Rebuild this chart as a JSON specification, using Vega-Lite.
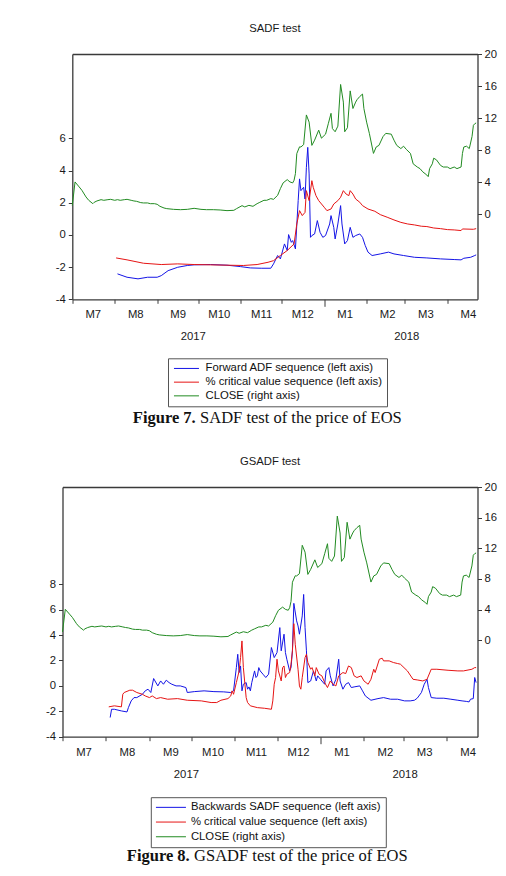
{
  "$schema": "https://vega.github.io/schema/vega-lite/v6.json",
  "padding": {"left": 41.5, "top": 22, "right": 0, "bottom": 0},
  "background": "white",
  "config": {
    "font": "Liberation Sans",
    "view": {"stroke": null},
    "axis": {"labelFont": "Liberation Sans", "labelFontSize": 11.3, "labelColor": "#1a1a1a", "tickColor": "#3a3a3a", "tickWidth": 1, "grid": false, "domain": false, "domainColor": "#3a3a3a", "domainWidth": 1.3, "title": null},
    "title": {"font": "Liberation Sans", "fontSize": 11.3, "fontWeight": "normal", "color": "#1a1a1a"},
    "line": {"strokeWidth": 1}
  },
  "datasets": {
    "close": [
      {"date":"2017-07-01","close":1.1},{"date":"2017-07-03","close":4.04},{"date":"2017-07-06","close":3.42},{"date":"2017-07-08","close":3.0},
      {"date":"2017-07-11","close":2.17},{"date":"2017-07-13","close":1.75},{"date":"2017-07-16","close":1.33},{"date":"2017-07-17","close":1.5},
      {"date":"2017-07-19","close":1.67},{"date":"2017-07-22","close":1.83},{"date":"2017-07-24","close":1.75},{"date":"2017-07-27","close":1.83},
      {"date":"2017-07-29","close":1.87},{"date":"2017-08-01","close":1.75},{"date":"2017-08-03","close":1.83},{"date":"2017-08-05","close":1.75},
      {"date":"2017-08-08","close":1.83},{"date":"2017-08-10","close":1.87},{"date":"2017-08-13","close":1.75},{"date":"2017-08-15","close":1.67},
      {"date":"2017-08-17","close":1.62},{"date":"2017-08-20","close":1.46},{"date":"2017-08-22","close":1.42},{"date":"2017-08-25","close":1.42},
      {"date":"2017-08-27","close":1.33},{"date":"2017-08-30","close":1.33},{"date":"2017-09-01","close":1.25},{"date":"2017-09-03","close":1.0},
      {"date":"2017-09-06","close":0.79},{"date":"2017-09-08","close":0.71},{"date":"2017-09-13","close":0.62},{"date":"2017-09-18","close":0.58},
      {"date":"2017-09-23","close":0.62},{"date":"2017-09-28","close":0.75},{"date":"2017-10-03","close":0.62},{"date":"2017-10-07","close":0.58},
      {"date":"2017-10-12","close":0.58},{"date":"2017-10-17","close":0.54},{"date":"2017-10-22","close":0.46},{"date":"2017-10-27","close":0.5},
      {"date":"2017-10-29","close":0.71},{"date":"2017-11-02","close":1.08},{"date":"2017-11-04","close":0.92},{"date":"2017-11-07","close":1.12},
      {"date":"2017-11-10","close":1.0},{"date":"2017-11-13","close":1.33},{"date":"2017-11-15","close":1.5},{"date":"2017-11-18","close":1.75},
      {"date":"2017-11-20","close":1.75},{"date":"2017-11-23","close":1.96},{"date":"2017-11-25","close":1.87},{"date":"2017-11-28","close":2.37},
      {"date":"2017-11-30","close":3.21},{"date":"2017-12-02","close":3.92},{"date":"2017-12-05","close":4.33},{"date":"2017-12-07","close":4.04},
      {"date":"2017-12-09","close":3.92},{"date":"2017-12-10","close":4.25},{"date":"2017-12-11","close":5.08},{"date":"2017-12-12","close":7.58},
      {"date":"2017-12-14","close":8.42},{"date":"2017-12-15","close":8.4},{"date":"2017-12-17","close":8.7},{"date":"2017-12-19","close":12.4},
      {"date":"2017-12-21","close":11.5},{"date":"2017-12-23","close":8.6},{"date":"2017-12-25","close":9.25},{"date":"2017-12-28","close":10.5},
      {"date":"2017-12-30","close":9.5},{"date":"2018-01-02","close":10.0},{"date":"2018-01-04","close":11.3},{"date":"2018-01-06","close":12.6},
      {"date":"2018-01-07","close":10.7},{"date":"2018-01-09","close":10.3},{"date":"2018-01-11","close":11.0},{"date":"2018-01-13","close":16.2},
      {"date":"2018-01-15","close":14.0},{"date":"2018-01-16","close":10.3},{"date":"2018-01-18","close":10.8},{"date":"2018-01-20","close":15.4},
      {"date":"2018-01-22","close":13.2},{"date":"2018-01-24","close":14.0},{"date":"2018-01-25","close":14.3},{"date":"2018-01-27","close":14.7},
      {"date":"2018-01-29","close":15.0},{"date":"2018-01-30","close":13.2},{"date":"2018-02-01","close":11.5},{"date":"2018-02-03","close":10.1},
      {"date":"2018-02-06","close":7.6},{"date":"2018-02-08","close":8.4},{"date":"2018-02-10","close":8.6},{"date":"2018-02-13","close":9.7},
      {"date":"2018-02-15","close":10.1},{"date":"2018-02-19","close":10.0},{"date":"2018-02-21","close":9.25},{"date":"2018-02-23","close":8.6},
      {"date":"2018-02-26","close":8.2},{"date":"2018-02-28","close":8.5},{"date":"2018-03-02","close":8.1},{"date":"2018-03-05","close":7.6},
      {"date":"2018-03-07","close":6.3},{"date":"2018-03-10","close":5.9},{"date":"2018-03-12","close":5.7},{"date":"2018-03-14","close":5.3},
      {"date":"2018-03-17","close":4.9},{"date":"2018-03-18","close":4.7},{"date":"2018-03-19","close":5.7},{"date":"2018-03-21","close":6.3},
      {"date":"2018-03-22","close":7.0},{"date":"2018-03-24","close":6.8},{"date":"2018-03-27","close":6.1},{"date":"2018-03-29","close":5.9},
      {"date":"2018-04-01","close":5.9},{"date":"2018-04-03","close":5.7},{"date":"2018-04-06","close":5.9},{"date":"2018-04-08","close":5.7},
      {"date":"2018-04-11","close":5.9},{"date":"2018-04-12","close":7.6},{"date":"2018-04-13","close":8.4},{"date":"2018-04-15","close":8.5},
      {"date":"2018-04-17","close":8.2},{"date":"2018-04-19","close":9.7},{"date":"2018-04-20","close":11.1},{"date":"2018-04-21","close":11.3},
      {"date":"2018-04-22","close":11.4}
    ],
    "sadf": [
      {"date":"2017-08-03","series":"adf","value":-2.42},{"date":"2017-08-10","series":"adf","value":-2.63},{"date":"2017-08-18","series":"adf","value":-2.73},
      {"date":"2017-08-25","series":"adf","value":-2.63},{"date":"2017-09-01","series":"adf","value":-2.63},{"date":"2017-09-04","series":"adf","value":-2.53},
      {"date":"2017-09-09","series":"adf","value":-2.22},{"date":"2017-09-16","series":"adf","value":-2.01},{"date":"2017-09-23","series":"adf","value":-1.9},
      {"date":"2017-09-28","series":"adf","value":-1.86},{"date":"2017-10-10","series":"adf","value":-1.84},{"date":"2017-10-22","series":"adf","value":-1.88},
      {"date":"2017-11-01","series":"adf","value":-1.97},{"date":"2017-11-08","series":"adf","value":-2.05},{"date":"2017-11-16","series":"adf","value":-2.07},
      {"date":"2017-11-23","series":"adf","value":-2.07},{"date":"2017-11-25","series":"adf","value":-1.8},{"date":"2017-11-28","series":"adf","value":-1.28},
      {"date":"2017-11-30","series":"adf","value":-1.49},{"date":"2017-12-03","series":"adf","value":-0.56},{"date":"2017-12-05","series":"adf","value":-0.97},
      {"date":"2017-12-06","series":"adf","value":0.02},{"date":"2017-12-08","series":"adf","value":-0.46},{"date":"2017-12-09","series":"adf","value":-0.35},
      {"date":"2017-12-11","series":"adf","value":-0.87},{"date":"2017-12-13","series":"adf","value":2.13},{"date":"2017-12-14","series":"adf","value":3.48},
      {"date":"2017-12-15","series":"adf","value":2.75},{"date":"2017-12-17","series":"adf","value":2.96},{"date":"2017-12-18","series":"adf","value":2.23},
      {"date":"2017-12-19","series":"adf","value":4.2},{"date":"2017-12-20","series":"adf","value":5.44},{"date":"2017-12-21","series":"adf","value":3.79},
      {"date":"2017-12-22","series":"adf","value":-0.15},{"date":"2017-12-23","series":"adf","value":-0.04},{"date":"2017-12-25","series":"adf","value":0.06},
      {"date":"2017-12-27","series":"adf","value":0.89},{"date":"2017-12-29","series":"adf","value":0.16},{"date":"2017-12-31","series":"adf","value":-0.15},
      {"date":"2018-01-02","series":"adf","value":-0.04},{"date":"2018-01-05","series":"adf","value":0.68},{"date":"2018-01-06","series":"adf","value":1.2},
      {"date":"2018-01-08","series":"adf","value":0.47},{"date":"2018-01-09","series":"adf","value":-0.25},{"date":"2018-01-11","series":"adf","value":0.68},
      {"date":"2018-01-13","series":"adf","value":1.82},{"date":"2018-01-14","series":"adf","value":0.68},{"date":"2018-01-16","series":"adf","value":-0.56},
      {"date":"2018-01-18","series":"adf","value":-0.35},{"date":"2018-01-20","series":"adf","value":0.47},{"date":"2018-01-22","series":"adf","value":-0.15},
      {"date":"2018-01-24","series":"adf","value":-0.04},{"date":"2018-01-27","series":"adf","value":0.06},{"date":"2018-01-29","series":"adf","value":-0.15},
      {"date":"2018-01-31","series":"adf","value":-0.66},{"date":"2018-02-02","series":"adf","value":-1.07},{"date":"2018-02-05","series":"adf","value":-1.28},
      {"date":"2018-02-11","series":"adf","value":-1.18},{"date":"2018-02-17","series":"adf","value":-1.07},{"date":"2018-02-21","series":"adf","value":-1.18},
      {"date":"2018-02-28","series":"adf","value":-1.28},{"date":"2018-03-08","series":"adf","value":-1.39},{"date":"2018-03-17","series":"adf","value":-1.43},
      {"date":"2018-03-27","series":"adf","value":-1.49},{"date":"2018-04-06","series":"adf","value":-1.53},{"date":"2018-04-11","series":"adf","value":-1.55},
      {"date":"2018-04-13","series":"adf","value":-1.45},{"date":"2018-04-18","series":"adf","value":-1.39},{"date":"2018-04-21","series":"adf","value":-1.28},
      {"date":"2018-04-22","series":"adf","value":-1.24},
      {"date":"2017-08-02","series":"cv","value":-1.43},{"date":"2017-08-10","series":"cv","value":-1.55},{"date":"2017-08-22","series":"cv","value":-1.76},
      {"date":"2017-09-04","series":"cv","value":-1.84},{"date":"2017-09-16","series":"cv","value":-1.8},{"date":"2017-09-28","series":"cv","value":-1.84},
      {"date":"2017-10-10","series":"cv","value":-1.86},{"date":"2017-10-22","series":"cv","value":-1.88},{"date":"2017-11-03","series":"cv","value":-1.9},
      {"date":"2017-11-13","series":"cv","value":-1.84},{"date":"2017-11-21","series":"cv","value":-1.7},{"date":"2017-11-25","series":"cv","value":-1.6},
      {"date":"2017-11-30","series":"cv","value":-1.28},{"date":"2017-12-05","series":"cv","value":-0.97},{"date":"2017-12-10","series":"cv","value":-0.56},
      {"date":"2017-12-12","series":"cv","value":0.68},{"date":"2017-12-14","series":"cv","value":1.51},{"date":"2017-12-16","series":"cv","value":1.2},
      {"date":"2017-12-18","series":"cv","value":1.4},{"date":"2017-12-19","series":"cv","value":2.75},{"date":"2017-12-21","series":"cv","value":2.13},
      {"date":"2017-12-23","series":"cv","value":3.37},{"date":"2017-12-24","series":"cv","value":2.96},{"date":"2017-12-26","series":"cv","value":2.44},
      {"date":"2017-12-28","series":"cv","value":2.13},{"date":"2018-01-01","series":"cv","value":1.72},{"date":"2018-01-03","series":"cv","value":1.51},
      {"date":"2018-01-06","series":"cv","value":1.61},{"date":"2018-01-08","series":"cv","value":1.92},{"date":"2018-01-11","series":"cv","value":2.13},
      {"date":"2018-01-13","series":"cv","value":2.34},{"date":"2018-01-15","series":"cv","value":2.75},{"date":"2018-01-17","series":"cv","value":2.54},
      {"date":"2018-01-19","series":"cv","value":2.44},{"date":"2018-01-20","series":"cv","value":2.75},{"date":"2018-01-22","series":"cv","value":2.54},
      {"date":"2018-01-24","series":"cv","value":2.23},{"date":"2018-01-27","series":"cv","value":2.03},{"date":"2018-01-29","series":"cv","value":1.82},
      {"date":"2018-02-02","series":"cv","value":1.61},{"date":"2018-02-07","series":"cv","value":1.47},{"date":"2018-02-11","series":"cv","value":1.26},
      {"date":"2018-02-16","series":"cv","value":1.1},{"date":"2018-02-21","series":"cv","value":0.93},{"date":"2018-02-26","series":"cv","value":0.78},
      {"date":"2018-03-03","series":"cv","value":0.68},{"date":"2018-03-08","series":"cv","value":0.62},{"date":"2018-03-13","series":"cv","value":0.54},
      {"date":"2018-03-17","series":"cv","value":0.52},{"date":"2018-03-22","series":"cv","value":0.43},{"date":"2018-03-27","series":"cv","value":0.39},
      {"date":"2018-04-01","series":"cv","value":0.33},{"date":"2018-04-06","series":"cv","value":0.31},{"date":"2018-04-11","series":"cv","value":0.27},
      {"date":"2018-04-12","series":"cv","value":0.37},{"date":"2018-04-20","series":"cv","value":0.35},{"date":"2018-04-22","series":"cv","value":0.39}
    ],
    "gsadf": [
      {"date":"2017-08-04","series":"bsadf","value":-2.49},{"date":"2017-08-05","series":"bsadf","value":-1.84},{"date":"2017-08-07","series":"bsadf","value":-1.84},
      {"date":"2017-08-12","series":"bsadf","value":-1.97},{"date":"2017-08-16","series":"bsadf","value":-2.05},{"date":"2017-08-17","series":"bsadf","value":-1.71},
      {"date":"2017-08-19","series":"bsadf","value":-1.18},{"date":"2017-08-21","series":"bsadf","value":-0.92},{"date":"2017-08-23","series":"bsadf","value":-0.92},
      {"date":"2017-08-27","series":"bsadf","value":-0.66},{"date":"2017-08-29","series":"bsadf","value":-0.39},{"date":"2017-08-31","series":"bsadf","value":-0.26},
      {"date":"2017-09-02","series":"bsadf","value":-0.52},{"date":"2017-09-04","series":"bsadf","value":0.58},{"date":"2017-09-07","series":"bsadf","value":0.0},
      {"date":"2017-09-09","series":"bsadf","value":0.39},{"date":"2017-09-11","series":"bsadf","value":0.13},{"date":"2017-09-13","series":"bsadf","value":0.45},
      {"date":"2017-09-15","series":"bsadf","value":0.26},{"date":"2017-09-17","series":"bsadf","value":0.13},{"date":"2017-09-20","series":"bsadf","value":0.0},
      {"date":"2017-09-23","series":"bsadf","value":0.0},{"date":"2017-09-27","series":"bsadf","value":-0.13},{"date":"2017-09-28","series":"bsadf","value":-0.52},
      {"date":"2017-10-03","series":"bsadf","value":-0.45},{"date":"2017-10-10","series":"bsadf","value":-0.39},{"date":"2017-10-17","series":"bsadf","value":-0.45},
      {"date":"2017-10-24","series":"bsadf","value":-0.47},{"date":"2017-10-29","series":"bsadf","value":-0.52},{"date":"2017-10-31","series":"bsadf","value":-0.39},
      {"date":"2017-11-02","series":"bsadf","value":1.44},{"date":"2017-11-03","series":"bsadf","value":2.49},{"date":"2017-11-04","series":"bsadf","value":1.05},
      {"date":"2017-11-05","series":"bsadf","value":1.57},{"date":"2017-11-06","series":"bsadf","value":-0.39},{"date":"2017-11-07","series":"bsadf","value":0.13},
      {"date":"2017-11-09","series":"bsadf","value":0.26},{"date":"2017-11-10","series":"bsadf","value":-0.26},{"date":"2017-11-11","series":"bsadf","value":-0.08},
      {"date":"2017-11-12","series":"bsadf","value":-0.39},{"date":"2017-11-13","series":"bsadf","value":0.26},{"date":"2017-11-15","series":"bsadf","value":1.18},
      {"date":"2017-11-16","series":"bsadf","value":0.66},{"date":"2017-11-17","series":"bsadf","value":0.79},{"date":"2017-11-18","series":"bsadf","value":1.44},
      {"date":"2017-11-19","series":"bsadf","value":1.18},{"date":"2017-11-21","series":"bsadf","value":0.92},{"date":"2017-11-23","series":"bsadf","value":0.66},
      {"date":"2017-11-25","series":"bsadf","value":0.92},{"date":"2017-11-27","series":"bsadf","value":3.02},{"date":"2017-11-29","series":"bsadf","value":2.23},
      {"date":"2017-12-01","series":"bsadf","value":2.62},{"date":"2017-12-03","series":"bsadf","value":4.59},{"date":"2017-12-04","series":"bsadf","value":2.76},
      {"date":"2017-12-06","series":"bsadf","value":4.07},{"date":"2017-12-07","series":"bsadf","value":2.62},{"date":"2017-12-08","series":"bsadf","value":2.1},
      {"date":"2017-12-10","series":"bsadf","value":1.18},{"date":"2017-12-11","series":"bsadf","value":1.44},{"date":"2017-12-12","series":"bsadf","value":2.76},
      {"date":"2017-12-13","series":"bsadf","value":6.5},{"date":"2017-12-15","series":"bsadf","value":5.12},{"date":"2017-12-16","series":"bsadf","value":4.72},
      {"date":"2017-12-17","series":"bsadf","value":4.07},{"date":"2017-12-19","series":"bsadf","value":5.51},{"date":"2017-12-20","series":"bsadf","value":7.2},
      {"date":"2017-12-21","series":"bsadf","value":4.59},{"date":"2017-12-22","series":"bsadf","value":2.76},{"date":"2017-12-23","series":"bsadf","value":0.26},
      {"date":"2017-12-25","series":"bsadf","value":0.39},{"date":"2017-12-27","series":"bsadf","value":1.18},{"date":"2017-12-29","series":"bsadf","value":0.39},
      {"date":"2017-12-30","series":"bsadf","value":0.79},{"date":"2018-01-01","series":"bsadf","value":0.52},{"date":"2018-01-04","series":"bsadf","value":0.13},
      {"date":"2018-01-05","series":"bsadf","value":1.18},{"date":"2018-01-07","series":"bsadf","value":1.44},{"date":"2018-01-08","series":"bsadf","value":0.79},
      {"date":"2018-01-10","series":"bsadf","value":0.0},{"date":"2018-01-12","series":"bsadf","value":0.52},{"date":"2018-01-14","series":"bsadf","value":2.1},
      {"date":"2018-01-15","series":"bsadf","value":0.39},{"date":"2018-01-17","series":"bsadf","value":-0.26},{"date":"2018-01-19","series":"bsadf","value":0.13},
      {"date":"2018-01-21","series":"bsadf","value":0.26},{"date":"2018-01-23","series":"bsadf","value":-0.13},{"date":"2018-01-25","series":"bsadf","value":-0.08},
      {"date":"2018-01-29","series":"bsadf","value":0.0},{"date":"2018-01-31","series":"bsadf","value":-0.39},{"date":"2018-02-02","series":"bsadf","value":-0.79},
      {"date":"2018-02-06","series":"bsadf","value":-1.13},{"date":"2018-02-11","series":"bsadf","value":-1.0},{"date":"2018-02-15","series":"bsadf","value":-0.92},
      {"date":"2018-02-20","series":"bsadf","value":-1.05},{"date":"2018-02-25","series":"bsadf","value":-1.05},{"date":"2018-03-02","series":"bsadf","value":-1.18},
      {"date":"2018-03-06","series":"bsadf","value":-1.18},{"date":"2018-03-09","series":"bsadf","value":-1.13},{"date":"2018-03-11","series":"bsadf","value":-0.97},
      {"date":"2018-03-14","series":"bsadf","value":-0.52},{"date":"2018-03-16","series":"bsadf","value":0.13},{"date":"2018-03-18","series":"bsadf","value":0.52},
      {"date":"2018-03-19","series":"bsadf","value":-0.13},{"date":"2018-03-21","series":"bsadf","value":-0.92},{"date":"2018-03-25","series":"bsadf","value":-0.97},
      {"date":"2018-03-30","series":"bsadf","value":-0.97},{"date":"2018-04-04","series":"bsadf","value":-1.05},{"date":"2018-04-09","series":"bsadf","value":-1.13},
      {"date":"2018-04-12","series":"bsadf","value":-1.18},{"date":"2018-04-15","series":"bsadf","value":-1.22},{"date":"2018-04-17","series":"bsadf","value":-1.26},
      {"date":"2018-04-18","series":"bsadf","value":-1.05},{"date":"2018-04-20","series":"bsadf","value":-1.0},{"date":"2018-04-21","series":"bsadf","value":0.66},
      {"date":"2018-04-22","series":"bsadf","value":0.26},
      {"date":"2017-08-03","series":"cv","value":-1.65},{"date":"2017-08-07","series":"cv","value":-1.57},{"date":"2017-08-12","series":"cv","value":-1.65},
      {"date":"2017-08-13","series":"cv","value":-0.66},{"date":"2017-08-14","series":"cv","value":-0.52},{"date":"2017-08-18","series":"cv","value":-0.34},
      {"date":"2017-08-20","series":"cv","value":-0.34},{"date":"2017-08-23","series":"cv","value":-0.52},{"date":"2017-08-27","series":"cv","value":-0.66},
      {"date":"2017-08-29","series":"cv","value":-0.79},{"date":"2017-09-01","series":"cv","value":-0.92},{"date":"2017-09-03","series":"cv","value":-0.79},
      {"date":"2017-09-06","series":"cv","value":-1.0},{"date":"2017-09-09","series":"cv","value":-0.92},{"date":"2017-09-14","series":"cv","value":-1.05},
      {"date":"2017-09-21","series":"cv","value":-1.0},{"date":"2017-09-28","series":"cv","value":-1.13},{"date":"2017-10-08","series":"cv","value":-1.18},
      {"date":"2017-10-15","series":"cv","value":-1.31},{"date":"2017-10-19","series":"cv","value":-1.31},{"date":"2017-10-22","series":"cv","value":-1.13},
      {"date":"2017-10-27","series":"cv","value":-1.0},{"date":"2017-10-29","series":"cv","value":-0.79},{"date":"2017-10-30","series":"cv","value":-0.39},
      {"date":"2017-10-31","series":"cv","value":-0.66},{"date":"2017-11-02","series":"cv","value":0.26},{"date":"2017-11-04","series":"cv","value":1.18},
      {"date":"2017-11-05","series":"cv","value":2.23},{"date":"2017-11-06","series":"cv","value":3.54},{"date":"2017-11-07","series":"cv","value":1.44},
      {"date":"2017-11-09","series":"cv","value":-0.92},{"date":"2017-11-10","series":"cv","value":-1.31},{"date":"2017-11-12","series":"cv","value":-1.57},
      {"date":"2017-11-17","series":"cv","value":-1.71},{"date":"2017-11-22","series":"cv","value":-1.76},{"date":"2017-11-27","series":"cv","value":-1.84},
      {"date":"2017-11-28","series":"cv","value":-1.18},{"date":"2017-11-29","series":"cv","value":0.13},{"date":"2017-11-30","series":"cv","value":0.66},
      {"date":"2017-12-01","series":"cv","value":2.1},{"date":"2017-12-02","series":"cv","value":1.18},{"date":"2017-12-04","series":"cv","value":0.39},
      {"date":"2017-12-05","series":"cv","value":1.44},{"date":"2017-12-06","series":"cv","value":1.57},{"date":"2017-12-07","series":"cv","value":0.66},
      {"date":"2017-12-08","series":"cv","value":0.92},{"date":"2017-12-10","series":"cv","value":1.05},{"date":"2017-12-11","series":"cv","value":1.71},
      {"date":"2017-12-12","series":"cv","value":2.76},{"date":"2017-12-13","series":"cv","value":4.9},{"date":"2017-12-14","series":"cv","value":3.28},
      {"date":"2017-12-16","series":"cv","value":1.31},{"date":"2017-12-17","series":"cv","value":0.0},{"date":"2017-12-18","series":"cv","value":-0.26},
      {"date":"2017-12-19","series":"cv","value":0.66},{"date":"2017-12-21","series":"cv","value":2.23},{"date":"2017-12-22","series":"cv","value":2.49},
      {"date":"2017-12-23","series":"cv","value":1.84},{"date":"2017-12-25","series":"cv","value":1.31},{"date":"2017-12-26","series":"cv","value":1.44},
      {"date":"2017-12-28","series":"cv","value":0.79},{"date":"2017-12-29","series":"cv","value":1.44},{"date":"2017-12-31","series":"cv","value":0.92},
      {"date":"2018-01-02","series":"cv","value":0.79},{"date":"2018-01-04","series":"cv","value":0.26},{"date":"2018-01-06","series":"cv","value":-0.13},
      {"date":"2018-01-08","series":"cv","value":0.39},{"date":"2018-01-10","series":"cv","value":0.13},{"date":"2018-01-12","series":"cv","value":0.0},
      {"date":"2018-01-14","series":"cv","value":0.79},{"date":"2018-01-17","series":"cv","value":1.05},{"date":"2018-01-19","series":"cv","value":0.97},
      {"date":"2018-01-21","series":"cv","value":1.57},{"date":"2018-01-23","series":"cv","value":1.44},{"date":"2018-01-25","series":"cv","value":0.79},
      {"date":"2018-01-27","series":"cv","value":0.66},{"date":"2018-01-30","series":"cv","value":0.79},{"date":"2018-02-01","series":"cv","value":0.39},
      {"date":"2018-02-04","series":"cv","value":0.13},{"date":"2018-02-06","series":"cv","value":0.52},{"date":"2018-02-08","series":"cv","value":1.31},
      {"date":"2018-02-09","series":"cv","value":1.05},{"date":"2018-02-12","series":"cv","value":2.1},{"date":"2018-02-14","series":"cv","value":2.18},
      {"date":"2018-02-15","series":"cv","value":1.97},{"date":"2018-02-19","series":"cv","value":1.97},{"date":"2018-02-22","series":"cv","value":1.84},
      {"date":"2018-02-25","series":"cv","value":1.76},{"date":"2018-02-27","series":"cv","value":1.71},{"date":"2018-03-04","series":"cv","value":1.18},
      {"date":"2018-03-08","series":"cv","value":0.52},{"date":"2018-03-11","series":"cv","value":0.47},{"date":"2018-03-15","series":"cv","value":0.39},
      {"date":"2018-03-18","series":"cv","value":0.52},{"date":"2018-03-21","series":"cv","value":1.31},{"date":"2018-03-25","series":"cv","value":1.31},
      {"date":"2018-04-02","series":"cv","value":1.23},{"date":"2018-04-09","series":"cv","value":1.18},{"date":"2018-04-13","series":"cv","value":1.18},
      {"date":"2018-04-19","series":"cv","value":1.31},{"date":"2018-04-21","series":"cv","value":1.44},{"date":"2018-04-22","series":"cv","value":1.44}
    ]
  },
  "columns": 1,
  "spacing": 28,
  "resolve": {"scale": {"color": "independent"}},
  "concat": [
    {
      "title": {"text": "SADF test of the price of EOS", "orient": "bottom", "anchor": "start", "frame": "bounds", "font": "Liberation Serif", "fontSize": 16.5, "fontWeight": "normal", "color": "#111", "dx": 147.8, "dy": -16.5, "offset": 0},
      "vconcat": [
        {
          "title": {"text": "Figure 7.", "orient": "bottom", "anchor": "start", "frame": "bounds", "font": "Liberation Serif", "fontSize": 16.5, "fontWeight": "bold", "color": "#111", "dx": 80.5, "offset": 68.5},
          "vconcat": [
            {
              "width": 415,
              "height": 245.3,
              "title": {"text": "SADF test", "anchor": "middle", "frame": "group", "offset": 14, "dx": 4.9},
              "layer": [
                {
                  "data": {"name": "sadf"},
                  "transform": [{"filter": "datum.series == 'adf'"}],
                  "mark": {"type": "line", "strokeWidth": 1},
                  "encoding": {
                    "x": {
                      "field": "date", "type": "temporal",
                      "scale": {"type": "utc", "nice": false, "range": [9.8, 415], "domain": [{"year": 2017, "month": 7, "date": 1, "utc": true}, {"year": 2018, "month": 4, "date": 23, "utc": true}]},
                      "axis": {
                        "orient": "bottom", "domain": true,
                        "values": [{"year": 2017, "month": 7, "date": 1, "utc": true}, {"year": 2017, "month": 8, "date": 1, "utc": true}, {"year": 2017, "month": 9, "date": 1, "utc": true}, {"year": 2017, "month": 10, "date": 1, "utc": true}, {"year": 2017, "month": 11, "date": 1, "utc": true}, {"year": 2017, "month": 12, "date": 1, "utc": true}, {"year": 2018, "month": 1, "date": 1, "utc": true}, {"year": 2018, "month": 2, "date": 1, "utc": true}, {"year": 2018, "month": 3, "date": 1, "utc": true}, {"year": 2018, "month": 4, "date": 1, "utc": true}],
                        "labelExpr": "'M' + (utcmonth(datum.value) + 1)",
                        "labelOffset": 20.5,
                        "labelFlush": false,
                        "labelOverlap": false,
                        "labelPadding": {"condition": {"test": "utcmonth(datum.value) == 0", "value": 2}, "value": 5},
                        "tickSize": {"condition": {"test": "utcmonth(datum.value) == 0", "value": 7}, "value": 4}
                      }
                    },
                    "y": {
                      "field": "value", "type": "quantitative",
                      "scale": {"domain": [-4, 11.24], "nice": false, "zero": false},
                      "axis": {"orient": "left", "offset": -9.8, "domain": true, "values": [-4, -2, 0, 2, 4, 6], "labelExpr": "datum.value < 0 ? '-' + abs(datum.value) : '' + datum.value", "tickSize": 4, "labelPadding": 3, "minExtent": 20}
                    },
                    "color": {
                      "field": "series", "type": "nominal",
                      "scale": {"domain": ["adf", "cv", "close"], "range": ["#1414e6", "#e61414", "#228b22"]},
                      "legend": {
                        "orient": "none", "legendX": 105.5, "legendY": 304.3,
                        "title": null,
                        "labelExpr": "datum.value == 'adf' ? 'Forward ADF sequence (left axis)' : datum.value == 'cv' ? '% critical value sequence (left axis)' : 'CLOSE (right axis)'",
                        "symbolType": "M-1,0H5", "symbolSize": 69.44, "symbolStrokeWidth": 1.3, "symbolFillColor": "transparent",
                        "labelOffset": 21.7, "labelFont": "Liberation Sans", "labelFontSize": 11.3, "labelColor": "#111", "labelLimit": 400,
                        "padding": 4.5, "rowPadding": 1.7,
                        "strokeColor": "#555", "fillColor": "white"
                      }
                    }
                  }
                },
                {
                  "data": {"name": "sadf"},
                  "transform": [{"filter": "datum.series == 'cv'"}],
                  "mark": {"type": "line", "strokeWidth": 1},
                  "encoding": {
                    "x": {
                      "field": "date", "type": "temporal",
                      "axis": {"orient": "top", "domain": true, "ticks": false, "labels": false}
                    },
                    "y": {
                      "field": "value", "type": "quantitative",
                      "scale": {"domain": [-4, 11.24], "nice": false, "zero": false},
                      "axis": null
                    },
                    "color": {"field": "series", "type": "nominal"}
                  }
                },
                {
                  "data": {"name": "close"},
                  "mark": {"type": "line", "strokeWidth": 1},
                  "encoding": {
                    "x": {
                      "field": "date", "type": "temporal",
                      "axis": {
                        "orient": "bottom",
                        "values": [{"year": 2017, "month": 9, "date": 27, "utc": true}, {"year": 2018, "month": 3, "date": 2, "utc": true}],
                        "labelExpr": "'' + utcyear(datum.value)",
                        "ticks": false, "tickSize": 0,
                        "labelFlush": false, "labelOverlap": false,
                        "labelPadding": 31
                      }
                    },
                    "y": {
                      "field": "close", "type": "quantitative",
                      "scale": {"domain": [-10.6, 20], "nice": false, "zero": false},
                      "axis": {"orient": "right", "domain": true, "values": [0, 4, 8, 12, 16, 20], "tickSize": 4, "labelPadding": 2.5, "minExtent": 15}
                    },
                    "color": {"datum": "close", "type": "nominal"}
                  }
                }
              ],
              "resolve": {"scale": {"y": "independent"}, "axis": {"x": "independent"}}
            }
          ]
        }
      ]
    },
    {
      "title": {"text": "GSADF test of the price of EOS", "orient": "bottom", "anchor": "start", "frame": "bounds", "font": "Liberation Serif", "fontSize": 16.5, "fontWeight": "normal", "color": "#111", "dx": 151.8, "dy": -16.5, "offset": 0},
      "vconcat": [
        {
          "title": {"text": "Figure 8.", "orient": "bottom", "anchor": "start", "frame": "bounds", "font": "Liberation Serif", "fontSize": 16.5, "fontWeight": "bold", "color": "#111", "dx": 84.5, "offset": 68.2},
          "vconcat": [
            {
              "width": 415,
              "height": 249.7,
              "title": {"text": "GSADF test", "anchor": "middle", "frame": "group", "offset": 14},
              "layer": [
                {
                  "data": {"name": "gsadf"},
                  "transform": [{"filter": "datum.series == 'bsadf'"}],
                  "mark": {"type": "line", "strokeWidth": 1},
                  "encoding": {
                    "x": {
                      "field": "date", "type": "temporal",
                      "scale": {"type": "utc", "nice": false, "domain": [{"year": 2017, "month": 7, "date": 1, "utc": true}, {"year": 2018, "month": 4, "date": 23, "utc": true}]},
                      "axis": {
                        "orient": "bottom", "domain": true,
                        "values": [{"year": 2017, "month": 7, "date": 1, "utc": true}, {"year": 2017, "month": 8, "date": 1, "utc": true}, {"year": 2017, "month": 9, "date": 1, "utc": true}, {"year": 2017, "month": 10, "date": 1, "utc": true}, {"year": 2017, "month": 11, "date": 1, "utc": true}, {"year": 2017, "month": 12, "date": 1, "utc": true}, {"year": 2018, "month": 1, "date": 1, "utc": true}, {"year": 2018, "month": 2, "date": 1, "utc": true}, {"year": 2018, "month": 3, "date": 1, "utc": true}, {"year": 2018, "month": 4, "date": 1, "utc": true}],
                        "labelExpr": "'M' + (utcmonth(datum.value) + 1)",
                        "labelOffset": 21,
                        "labelFlush": false,
                        "labelOverlap": false,
                        "labelPadding": {"condition": {"test": "utcmonth(datum.value) == 0", "value": 3}, "value": 6},
                        "tickSize": {"condition": {"test": "utcmonth(datum.value) == 0", "value": 7}, "value": 4}
                      }
                    },
                    "y": {
                      "field": "value", "type": "quantitative",
                      "scale": {"domain": [-4, 15.66], "nice": false, "zero": false},
                      "axis": {"orient": "left", "domain": true, "values": [-4, -2, 0, 2, 4, 6, 8], "labelExpr": "datum.value < 0 ? '-' + abs(datum.value) : '' + datum.value", "tickSize": 4, "labelPadding": 3, "minExtent": 20.2}
                    },
                    "color": {
                      "field": "series", "type": "nominal",
                      "scale": {"domain": ["bsadf", "cv", "close"], "range": ["#1414e6", "#e61414", "#228b22"]},
                      "legend": {
                        "orient": "none", "legendX": 88.3, "legendY": 310.2,
                        "title": null,
                        "labelExpr": "datum.value == 'bsadf' ? 'Backwards SADF sequence (left axis)' : datum.value == 'cv' ? '% critical value sequence (left axis)' : 'CLOSE (right axis)'",
                        "symbolType": "M-1,0H5", "symbolSize": 100, "symbolStrokeWidth": 1.3, "symbolFillColor": "transparent",
                        "labelOffset": 24.3, "labelFont": "Liberation Sans", "labelFontSize": 11.3, "labelColor": "#111", "labelLimit": 400,
                        "padding": 4.5, "rowPadding": 2.7,
                        "strokeColor": "#555", "fillColor": "white"
                      }
                    }
                  }
                },
                {
                  "data": {"name": "gsadf"},
                  "transform": [{"filter": "datum.series == 'cv'"}],
                  "mark": {"type": "line", "strokeWidth": 1},
                  "encoding": {
                    "x": {
                      "field": "date", "type": "temporal",
                      "axis": {"orient": "top", "domain": true, "ticks": false, "labels": false}
                    },
                    "y": {
                      "field": "value", "type": "quantitative",
                      "scale": {"domain": [-4, 15.66], "nice": false, "zero": false},
                      "axis": null
                    },
                    "color": {"field": "series", "type": "nominal"}
                  }
                },
                {
                  "data": {"name": "close"},
                  "mark": {"type": "line", "strokeWidth": 1},
                  "encoding": {
                    "x": {
                      "field": "date", "type": "temporal",
                      "axis": {
                        "orient": "bottom",
                        "values": [{"year": 2017, "month": 9, "date": 27, "utc": true}, {"year": 2018, "month": 3, "date": 2, "utc": true}],
                        "labelExpr": "'' + utcyear(datum.value)",
                        "ticks": false, "tickSize": 0,
                        "labelFlush": false, "labelOverlap": false,
                        "labelPadding": 32
                      }
                    },
                    "y": {
                      "field": "close", "type": "quantitative",
                      "scale": {"domain": [-12.57, 20], "nice": false, "zero": false},
                      "axis": {"orient": "right", "domain": true, "values": [0, 4, 8, 12, 16, 20], "tickSize": 4, "labelPadding": 2.5, "minExtent": 15}
                    },
                    "color": {"datum": "close", "type": "nominal"}
                  }
                }
              ],
              "resolve": {"scale": {"y": "independent"}, "axis": {"x": "independent"}}
            }
          ]
        }
      ]
    }
  ]
}
